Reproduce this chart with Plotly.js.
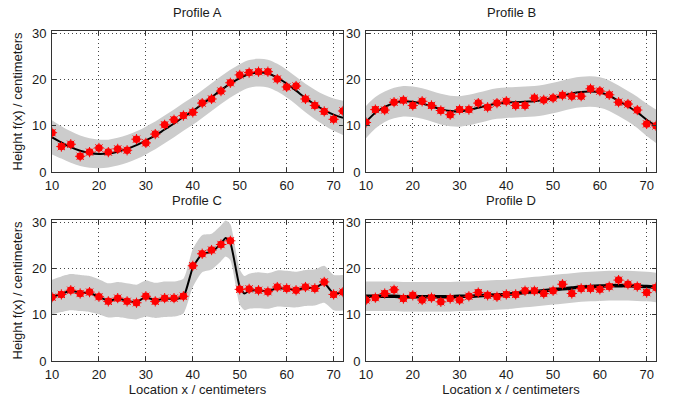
<!DOCTYPE html>
<html>
<head>
<meta charset="utf-8">
<script src="https://cdn.plot.ly/plotly-3.0.1.min.js"></script>
<style>html,body{margin:0;padding:0;background:#fff;}#chart{width:675px;height:400px;}</style>
</head>
<body>
<div id="chart"></div>
<script>
// Sample locations (cm)
const xLoc = [10,12,14,16,18,20,22,24,26,28,30,32,34,36,38,40,42,44,46,48,50,52,54,56,58,60,62,64,66,68,70,72];

// Profile A
const obsA = [8.5,5.5,6.0,3.4,4.3,5.2,4.3,5.0,4.7,7.1,6.3,8.2,10.2,11.3,12.2,12.9,14.9,15.8,17.5,19.3,21.0,21.5,21.7,21.7,20.1,18.4,18.6,15.8,14.4,13.1,11.4,13.2];
const fitA = [7.5,6.4,5.4,4.6,4.1,3.9,4.0,4.4,5.0,5.8,6.8,7.9,9.2,10.5,11.9,13.2,14.7,16.2,17.7,19.1,20.3,21.2,21.5,21.3,20.4,19.1,17.6,16.0,14.6,13.4,12.4,11.7];
const sdA  = [3.7,3.5,3.4,3.3,3.2,3.1,3.0,3.0,3.0,3.0,3.0,3.0,3.0,3.0,3.0,3.0,3.0,3.0,3.0,3.0,3.0,3.0,3.0,3.0,3.0,3.0,3.0,3.1,3.2,3.3,3.5,3.7];

// Profile B
const obsB = [10.7,13.5,13.4,15.1,15.5,14.4,15.3,14.4,13.3,12.4,13.5,13.5,14.9,14.0,14.9,15.3,14.4,14.4,16.0,15.6,16.0,16.6,16.4,16.4,18.0,17.5,16.7,15.1,14.7,13.4,10.4,10.0];
const fitB = [10.8,12.8,14.1,14.9,15.3,15.2,14.8,14.2,13.6,13.2,13.1,13.4,13.9,14.4,14.8,15.0,15.1,15.2,15.3,15.6,16.0,16.5,17.0,17.3,17.4,17.2,16.5,15.4,14.2,12.9,11.3,9.9];
const sdB  = [3.5,3.4,3.3,3.3,3.3,3.3,3.3,3.3,3.3,3.3,3.3,3.3,3.3,3.3,3.3,3.3,3.3,3.3,3.3,3.3,3.3,3.3,3.3,3.3,3.3,3.3,3.3,3.3,3.3,3.4,3.5,3.6];

// Profile C
const obsC = [13.8,14.4,15.3,14.6,14.9,13.9,12.9,13.6,12.9,12.6,14.0,12.9,13.6,13.6,14.0,20.6,23.2,24.0,25.2,26.0,15.5,15.6,15.3,15.0,16.0,15.7,15.3,16.0,15.7,17.1,14.4,14.9];
const xFitC = [10,12,14,16,18,20,22,24,26,28,30,32,34,36,38,40,42,44,46,47,48,50,51,52,54,56,58,60,62,64,66,68,70,72];
const fitC = [13.9,14.5,15.2,14.8,14.7,13.9,13.0,13.5,13.0,12.8,13.8,13.1,13.5,13.4,13.9,20.2,23.2,23.6,25.4,26.6,25.6,16.0,14.6,15.2,15.3,15.1,15.8,15.6,15.4,15.8,15.8,16.8,14.6,14.8];
const bandLoC = [10.1,10.6,11.0,10.8,10.6,10.1,9.4,9.5,9.2,9.0,9.6,9.3,9.5,9.6,10.3,16.0,19.2,19.8,21.6,22.6,21.8,12.2,11.0,11.3,11.4,11.3,11.8,11.7,11.6,11.9,12.0,12.6,11.0,10.9];
const bandHiC = [17.6,18.3,18.8,18.6,18.4,17.7,16.8,17.1,16.8,16.5,17.4,16.9,17.2,17.2,17.8,24.2,27.2,27.5,29.3,30.4,29.6,19.8,18.4,18.9,19.2,19.0,19.6,19.5,19.3,19.7,19.8,20.6,18.6,18.6];

// Profile D
const obsD = [13.2,13.7,14.6,15.4,13.5,14.2,13.2,13.7,12.8,13.5,13.2,14.0,14.8,14.2,13.9,14.4,14.4,15.2,15.2,14.6,15.2,16.6,14.6,15.7,15.7,15.5,16.1,17.5,16.6,16.1,14.8,15.9];
const fitD = [14.0,14.0,14.0,14.0,13.9,13.9,13.9,13.9,13.9,13.9,14.0,14.0,14.1,14.2,14.3,14.4,14.6,14.8,15.0,15.2,15.4,15.6,15.8,16.0,16.1,16.2,16.3,16.3,16.3,16.2,16.1,15.9];
const sdD  = [3.2,3.2,3.2,3.2,3.2,3.2,3.2,3.2,3.2,3.2,3.2,3.2,3.2,3.2,3.2,3.2,3.2,3.2,3.2,3.2,3.2,3.2,3.2,3.2,3.2,3.2,3.2,3.2,3.2,3.2,3.2,3.2];

const panelTitles = ["Profile A","Profile B","Profile C","Profile D"];
const xTicks = [10,20,30,40,50,60,70];
const yTicks = [0,10,20,30];

const panels = [
  {xf: xLoc, fit: fitA, lo: fitA.map((v,i)=>v-sdA[i]), hi: fitA.map((v,i)=>v+sdA[i]), obs: obsA, xa: 'x',  ya: 'y',  lw: 2, sm: 1.0, bsm: 1.0},
  {xf: xLoc, fit: fitB, lo: fitB.map((v,i)=>v-sdB[i]), hi: fitB.map((v,i)=>v+sdB[i]), obs: obsB, xa: 'x2', ya: 'y2', lw: 2, sm: 1.0, bsm: 1.0},
  {xf: xFitC, fit: fitC, lo: bandLoC, hi: bandHiC, obs: obsC, xa: 'x3', ya: 'y3', lw: 2, sm: 0.5, bsm: 0.6},
  {xf: xLoc, fit: fitD, lo: fitD.map((v,i)=>v-sdD[i]), hi: fitD.map((v,i)=>v+sdD[i]), obs: obsD, xa: 'x4', ya: 'y4', lw: 3.5, sm: 1.0, bsm: 1.0}
];

const traces = [];
panels.forEach(p => {
  traces.push({x: p.xf, y: p.lo, xaxis: p.xa, yaxis: p.ya, mode: 'lines',
    line: {width: 0, shape: 'spline', smoothing: p.bsm, color: 'rgba(0,0,0,0)'}, hoverinfo: 'skip', showlegend: false});
  traces.push({x: p.xf, y: p.hi, xaxis: p.xa, yaxis: p.ya, mode: 'lines', fill: 'tonexty',
    fillcolor: '#cccccc', line: {width: 0, shape: 'spline', smoothing: p.bsm, color: 'rgba(0,0,0,0)'}, hoverinfo: 'skip', showlegend: false});
  traces.push({x: p.xf, y: p.fit, xaxis: p.xa, yaxis: p.ya, mode: 'lines',
    line: {width: p.lw, color: '#000000', shape: 'spline', smoothing: p.sm}, showlegend: false});
  traces.push({x: xLoc, y: p.obs, xaxis: p.xa, yaxis: p.ya, mode: 'markers',
    marker: {symbol: 'circle', size: 7.5, color: '#ff0000', line: {width: 0}}, showlegend: false});
  traces.push({x: xLoc, y: p.obs, xaxis: p.xa, yaxis: p.ya, mode: 'markers',
    marker: {symbol: 'asterisk-open', size: 8.5, color: '#ff0000', line: {width: 1, color: '#ff0000'}}, showlegend: false, hoverinfo: 'skip'});
});

const fam = 'Liberation Sans, Arial, sans-serif';
const font = {family: fam, size: 12, color: '#000'};
function common() {
  return {ticks: 'inside', ticklen: 4, tickcolor: '#333', showline: true, mirror: 'ticks', linecolor: '#333', linewidth: 1,
    showgrid: true, gridcolor: '#444', griddash: '1px,3px', gridwidth: 1, zeroline: false,
    tickfont: {family: fam, size: 13, color: '#1a1a1a'}};
}
function xAxis(domain, anchor, showTitle) {
  return Object.assign(common(), {domain: domain, anchor: anchor, range: [10, 72], tickvals: xTicks, ticklabelstandoff: 1,
    title: showTitle ? {text: 'Location x / centimeters', font: {family: fam, size: 13, color: '#1a1a1a'}, standoff: 3} : {text: ''}});
}
function yAxis(domain, anchor, showTitle) {
  return Object.assign(common(), {domain: domain, anchor: anchor, range: [0, 30.5], tickvals: yTicks, ticklabelstandoff: 2,
    title: showTitle ? {text: 'Height f(x) / centimeters', font: {family: fam, size: 13, color: '#1a1a1a'}, standoff: 6} : {text: ''}});
}

const xdL = [52/675, 343/675], xdR = [366/675, 656/675];
const ydT = [1 - 172/400, 1 - 31/400], ydB = [1 - 361/400, 1 - 220/400];

const layout = {
  width: 675, height: 400, margin: {l: 0, r: 0, t: 0, b: 0},
  paper_bgcolor: '#fff', plot_bgcolor: '#fff', showlegend: false, font: font,
  xaxis: xAxis(xdL, 'y', false), yaxis: yAxis(ydT, 'x', true),
  xaxis2: xAxis(xdR, 'y2', false), yaxis2: yAxis(ydT, 'x2', false),
  xaxis3: xAxis(xdL, 'y3', true), yaxis3: yAxis(ydB, 'x3', true),
  xaxis4: xAxis(xdR, 'y4', true), yaxis4: yAxis(ydB, 'x4', false),
  annotations: [
    {text: panelTitles[0], x: (xdL[0]+xdL[1])/2, y: 1 - 12/400},
    {text: panelTitles[1], x: (xdR[0]+xdR[1])/2, y: 1 - 12/400},
    {text: panelTitles[2], x: (xdL[0]+xdL[1])/2, y: 1 - 201/400},
    {text: panelTitles[3], x: (xdR[0]+xdR[1])/2, y: 1 - 201/400}
  ].map(a => Object.assign(a, {xref: 'paper', yref: 'paper', showarrow: false, xanchor: 'center', yanchor: 'middle',
    font: {family: fam, size: 13, color: '#1a1a1a'}}))
};

Plotly.newPlot('chart', traces, layout, {displayModeBar: false, staticPlot: true});
</script>
</body>
</html>
